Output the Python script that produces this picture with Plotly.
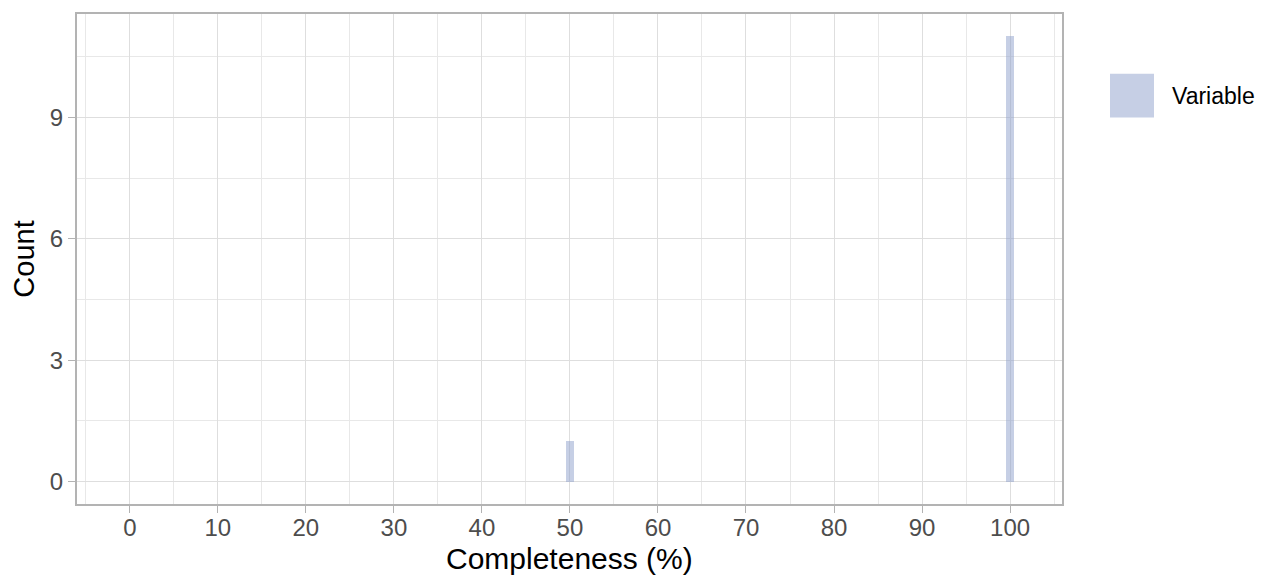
import plotly.graph_objects as go

completeness = [50, 100]
counts = [1, 11]
series_name = "Variable"
x_ticks = list(range(0, 101, 10))
y_ticks = [0, 3, 6, 9]

fill = "rgba(141,160,203,0.5)"
grid_major = "#dedede"
grid_minor = "#e8e8e8"
border = "#b3b3b3"
font = "Liberation Sans, Arial, sans-serif"

# reference panel box (page px): left 77, right 1062, top 12, bottom 504; page body offset 8px
OFF = 8
L, R, T, B = 77 - OFF, 1271 - (1062 - OFF), 12 - OFF, 577 - (504 - OFF)
PW, PH = 1062 - 77, 504 - 12

fig = go.Figure()
fig.add_trace(go.Bar(x=completeness, y=counts, width=1, marker=dict(color=fill, line=dict(width=0)),
                     name=series_name, showlegend=False))

fig.update_layout(
    width=1271, height=577,
    margin=dict(l=L, r=R, t=T, b=B),
    plot_bgcolor="white", paper_bgcolor="white",
    font=dict(family=font),
    bargap=0,
)
fig.update_xaxes(
    range=[-6.0, 105.9], tickvals=x_ticks, ticktext=[str(v) for v in x_ticks],
    showgrid=True, gridcolor=grid_major, gridwidth=1.4,
    minor=dict(tick0=-5, dtick=10, showgrid=True, gridcolor=grid_minor, gridwidth=0.8),
    ticks="outside", ticklen=7, tickcolor=border, tickwidth=1.4,
    tickfont=dict(size=24, color="#4d4d4d"), ticklabelstandoff=-6,
    showline=True, linecolor=border, linewidth=2, mirror=True,
    zeroline=False,
)
fig.update_yaxes(
    range=[-0.55, 11.55], tickvals=y_ticks, ticktext=[str(v) for v in y_ticks],
    showgrid=True, gridcolor=grid_major, gridwidth=1.4,
    minor=dict(tick0=1.5, dtick=3, showgrid=True, gridcolor=grid_minor, gridwidth=0.8),
    ticks="outside", ticklen=7, tickcolor=border, tickwidth=1.4,
    tickfont=dict(size=24, color="#4d4d4d"),
    showline=True, linecolor=border, linewidth=2, mirror=True,
    zeroline=False,
    title=dict(text="Count", font=dict(size=29, color="black"), standoff=12),
)

# x-axis title placed precisely
fig.add_annotation(xref="paper", yref="paper", x=0.5, y=(504 - 559) / PH,
                   text="Completeness (%)", showarrow=False, xanchor="center", yanchor="middle",
                   font=dict(size=30, color="black"))

# legend key
fig.add_shape(type="rect", xref="paper", yref="paper",
              x0=(1110 - 77) / PW, x1=(1154 - 77) / PW,
              y0=(504 - 116) / PH, y1=(504 - 72) / PH,
              fillcolor=fill, line=dict(width=0))
fig.add_annotation(xref="paper", yref="paper",
                   x=(1170 - 77) / PW, y=(504 - 94) / PH,
                   text=series_name, showarrow=False, xanchor="left", yanchor="middle",
                   font=dict(size=23, color="black"))

fig.write_html("out.html")
